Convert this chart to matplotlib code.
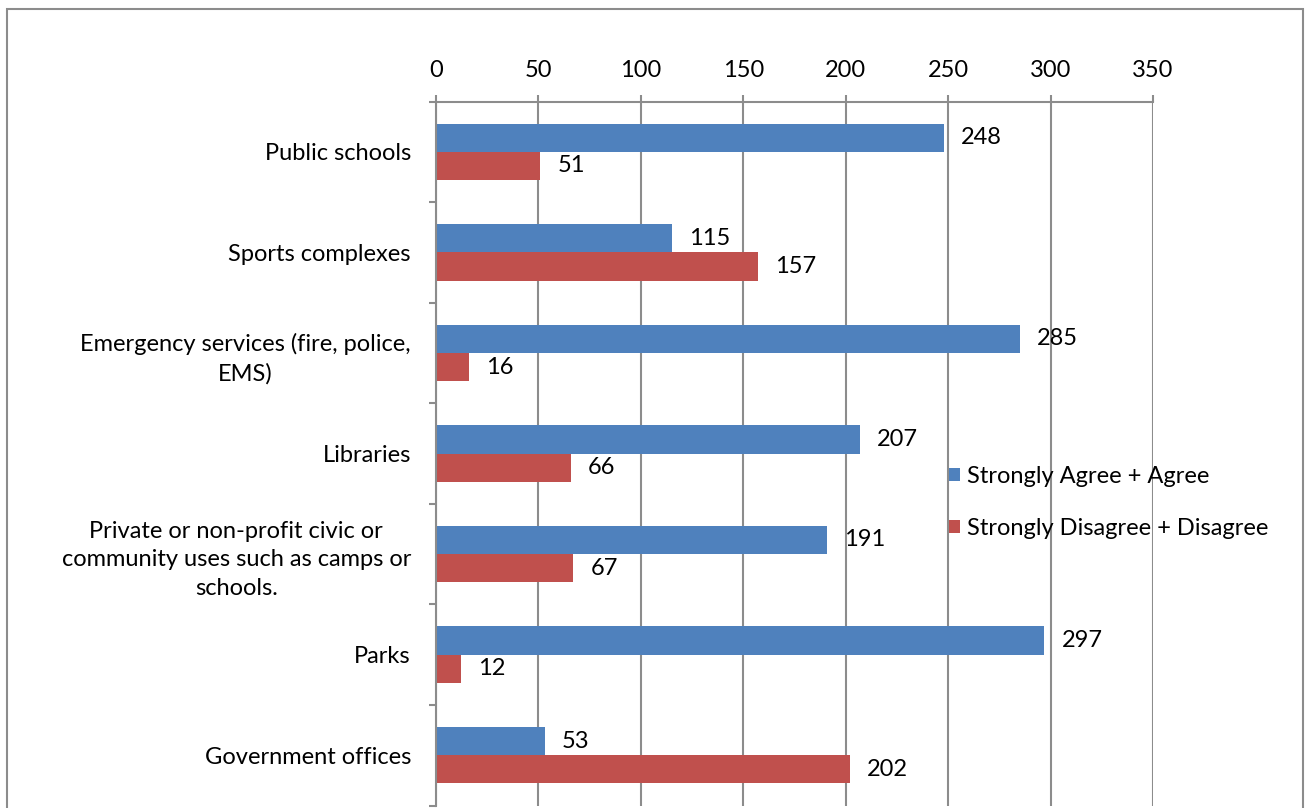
import numpy as np
import matplotlib.pyplot as plt
from matplotlib.patches import Rectangle

plt.rcParams['font.family'] = ['Lato', 'DejaVu Sans']

categories = ['Public schools', 'Sports complexes',
              'Emergency services (fire, police,\nEMS)', 'Libraries',
              'Private or non-profit civic or\ncommunity uses such as camps or\nschools.',
              'Parks', 'Government offices']
agree = [248, 115, 285, 207, 191, 297, 53]
disagree = [51, 157, 16, 66, 67, 12, 202]
series_names = ['Strongly Agree + Agree', 'Strongly Disagree + Disagree']
xticks = [0, 50, 100, 150, 200, 250, 300, 350]

blue = '#4F81BD'
red = '#C0504D'
grid_col = '#8C8C8C'
fs = 17

fig = plt.figure(figsize=(13.06, 8.08), dpi=100)
ax = fig.add_axes([436 / 1306, 2.5 / 808, (1153 - 436) / 1306, (806 - 102) / 808])

# chart frame
fig.patches.append(Rectangle((7 / 1306, -0.1), (1303 - 7) / 1306, 1.1 - 9 / 808,
                             transform=fig.transFigure, fill=False,
                             edgecolor=grid_col, linewidth=1.5))

y = np.arange(len(categories))
h = 0.28
b1 = ax.barh(y - h / 2, agree, height=h, color=blue, label=series_names[0], zorder=2)
b2 = ax.barh(y + h / 2, disagree, height=h, color=red, label=series_names[1], zorder=2)

for bars, vals in ((b1, agree), (b2, disagree)):
    for bar, v in zip(bars, vals):
        ax.annotate(str(v), (v, bar.get_y() + bar.get_height() / 2),
                    xytext=(17, 0), textcoords='offset pixels',
                    ha='left', va='center', fontsize=fs, zorder=3)

ax.set_xlim(0, 350)
ax.set_ylim(len(categories) - 0.5, -0.5)
ax.set_xticks(xticks)
ax.xaxis.tick_top()
ax.tick_params(axis='x', direction='out', length=5, width=1.5, color=grid_col,
               labelsize=fs, pad=10)
ax.grid(axis='x', color=grid_col, linewidth=1.5, zorder=1)

ax.set_yticks(y)
ax.set_yticklabels(categories, fontsize=fs, ha='right', multialignment='center',
                   linespacing=1.45)
ax.set_yticks(np.arange(-0.5, len(categories), 1), minor=True)
ax.tick_params(axis='y', which='major', length=0, pad=18)
ax.tick_params(axis='y', which='minor', direction='out', length=5, width=1.5,
               color=grid_col)

for s in ('right', 'bottom'):
    ax.spines[s].set_visible(False)
for s in ('top', 'left'):
    ax.spines[s].set_color(grid_col)
    ax.spines[s].set_linewidth(1.5)

ax.legend(loc='upper left', bbox_to_anchor=(942 / 1306, (808 - 459) / 808),
          bbox_transform=fig.transFigure, frameon=False, fontsize=fs,
          handlelength=0.45, handleheight=0.45, handletextpad=0.3,
          labelspacing=1.32, borderaxespad=0, borderpad=0.3)

fig.savefig('out.png', dpi=100)
